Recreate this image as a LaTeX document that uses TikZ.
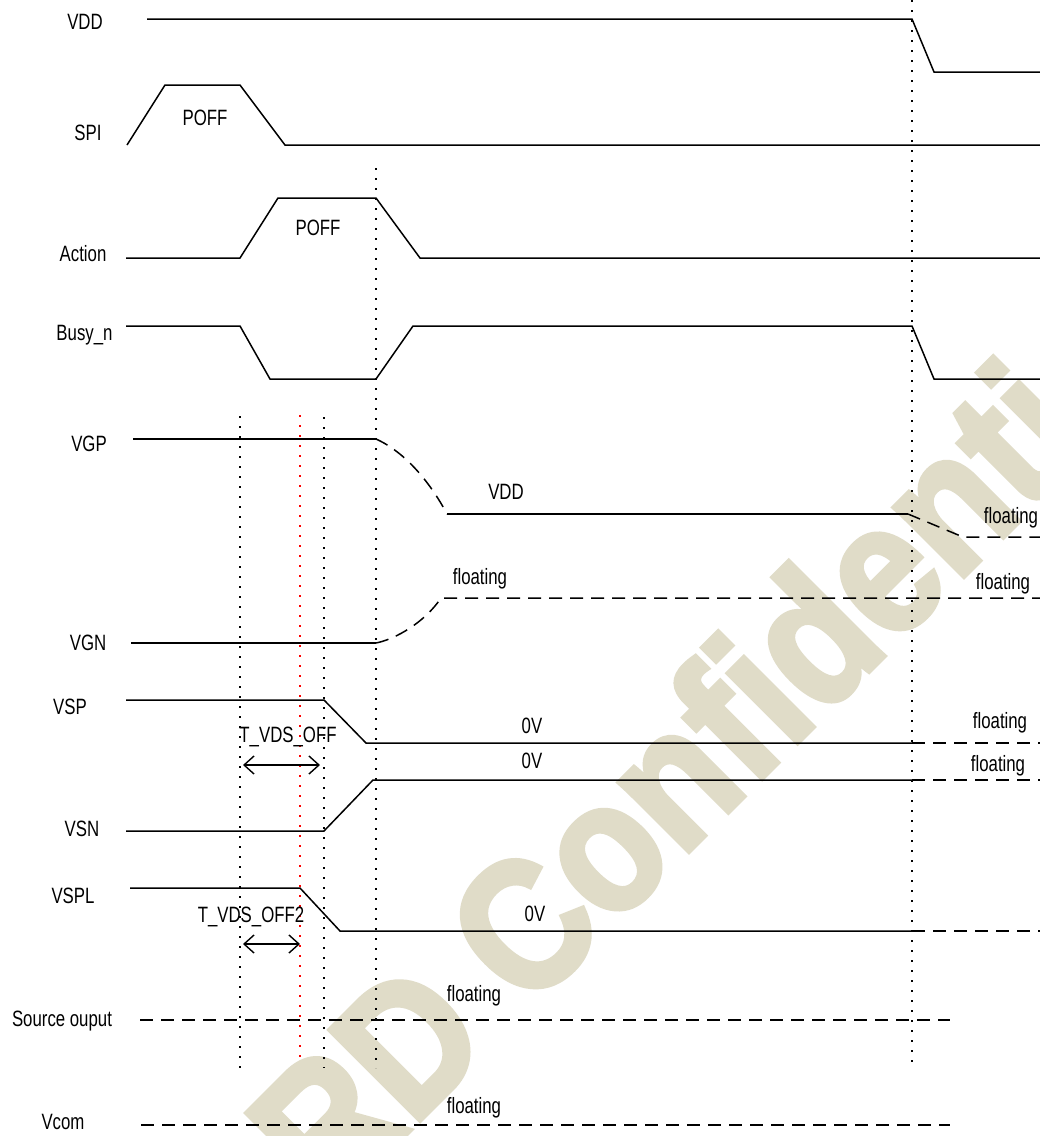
\documentclass[tikz,border=0pt]{standalone}
\usepackage{fontspec}
\setmainfont{Liberation Sans}
\newfontfamily\wmfont[FakeBold=3]{Liberation Sans Bold}
\usepackage{graphicx}
\usetikzlibrary{arrows.meta}
\definecolor{wmcol}{RGB}{224,220,200}
\newcommand{\tx}[1]{\scalebox{1}[1.32]{#1}}
\begin{document}
\begin{tikzpicture}[x=1pt,y=-1pt,
  sig/.style={line width=1.5pt, line join=miter},
  dsig/.style={line width=1.5pt, dash pattern=on 13pt off 8pt},
  vdot/.style={line width=2pt, dash pattern=on 2pt off 8pt},
  rdot/.style={vdot, red},
  lbl/.style={font=\fontsize{16.8}{20}\selectfont, inner sep=0pt, anchor=base},
  dimarrow/.style={line width=1.4pt, {Straight Barb[length=10pt,width=18pt]}-{Straight Barb[length=10pt,width=18pt]}},
  wm/.style={font=\fontsize{185}{190}\wmfont, text=wmcol, inner sep=0pt}
]
\path[use as bounding box, fill=white] (0,0) rectangle (1040,1136);
\begin{scope}
\clip (0,0) rectangle (1040,1136);
\node[wm, rotate=45, anchor=base west] (wmark) at (329,1211) {\scalebox{0.88}[1]{RD Confidential}};
\end{scope}

% vertical dotted markers
\draw[vdot] (912,0) -- (912,1068);
\draw[vdot] (376,168) -- (376,1068);
\draw[vdot] (240,416) -- (240,1068);
\draw[vdot] (324,417) -- (324,1068);
\draw[rdot] (300,415) -- (300,1057);

% VDD
\node[lbl] (lvdd) at (85,29) {\tx{VDD}};
\draw[sig] (147,19) -- (912,19) -- (934,72) -- (1040,72);

% SPI
\node[lbl] (lspi) at (88,140) {\tx{SPI}};
\draw[sig] (127,145) -- (165,85) -- (240,85) -- (285,145) -- (1040,145);
\node[lbl] (poff1) at (205,125) {\tx{POFF}};

% Action
\node[lbl] (lact) at (83,261) {\tx{Action}};
\draw[sig] (126,258) -- (240,258) -- (278,198) -- (376,198) -- (420,258) -- (1040,258);
\node[lbl] (poff2) at (318,235) {\tx{POFF}};

% Busy_n
\node[lbl] (lbusy) at (84.5,340) {\tx{Busy\_n}};
\draw[sig] (126,326) -- (240,326) -- (270,379) -- (376,379) -- (413,326) -- (912,326) -- (934,379) -- (1040,379);

% VGP
\node[lbl] (lvgp) at (89,451) {\tx{VGP}};
\draw[sig] (133,439) -- (376,439);
\draw[dsig] (376,439) .. controls (405,452) and (430,482) .. (447,514);
\draw[sig] (447,514) -- (908,514);
\draw[dsig] (908,514) -- (963,537) -- (1040,537);
\node[lbl] (vgpvdd) at (506,499) {\tx{VDD}};
\node[lbl] (vgpfl) at (1011,523) {\tx{floating}};

% VGN
\node[lbl] (lvgn) at (88,650) {\tx{VGN}};
\draw[sig] (131,643) -- (376,643);
\draw[dsig] (376,643) .. controls (396,639) and (425,622) .. (441,598) -- (1040,598);
\node[lbl] (vgnfl1) at (480,584) {\tx{floating}};
\node[lbl] (vgnfl2) at (1003,589) {\tx{floating}};

% VSP
\node[lbl] (lvsp) at (70,714) {\tx{VSP}};
\draw[sig] (126,700) -- (324,700) -- (366,743) -- (912,743);
\draw[dsig] (912,743) -- (1040,743);
\node[lbl] (tvds) at (288,742) {\tx{T\_VDS\_OFF}};
\node[lbl] (vsp0) at (532,733) {\tx{0V}};
\node[lbl] (vspfl) at (1000,728) {\tx{floating}};
\coordinate (a1l) at (243,765);
\coordinate (a1r) at (320,765);
\draw[dimarrow] (a1l) -- (a1r);

% VSN
\node[lbl] (lvsn) at (82,836) {\tx{VSN}};
\draw[sig] (126,831) -- (324,831) -- (373,780) -- (912,780);
\draw[dsig] (912,780) -- (1040,780);
\node[lbl] (vsn0) at (532,768) {\tx{0V}};
\node[lbl] (vsnfl) at (998,771) {\tx{floating}};

% VSPL
\node[lbl] (lvspl) at (73,903) {\tx{VSPL}};
\draw[sig] (130,888) -- (300,888) -- (340,931) -- (912,931);
\draw[dsig] (912,931) -- (1040,931);
\node[lbl] (tvds2) at (251,922) {\tx{T\_VDS\_OFF2}};
\node[lbl] (vspl0) at (535,921) {\tx{0V}};
\coordinate (a2l) at (243,944);
\coordinate (a2r) at (300,944);
\draw[dimarrow] (a2l) -- (a2r);

% Source output
\node[lbl] (lsrc) at (62,1026) {\tx{Source ouput}};
\draw[dsig] (140,1020) -- (950,1020);
\node[lbl] (srcfl) at (474,1001) {\tx{floating}};

% Vcom
\node[lbl] (lvcom) at (63,1129) {\tx{Vcom}};
\draw[dsig] (141,1125) -- (950,1125);
\node[lbl] (vcomfl) at (474,1113) {\tx{floating}};
\end{tikzpicture}
\end{document}
